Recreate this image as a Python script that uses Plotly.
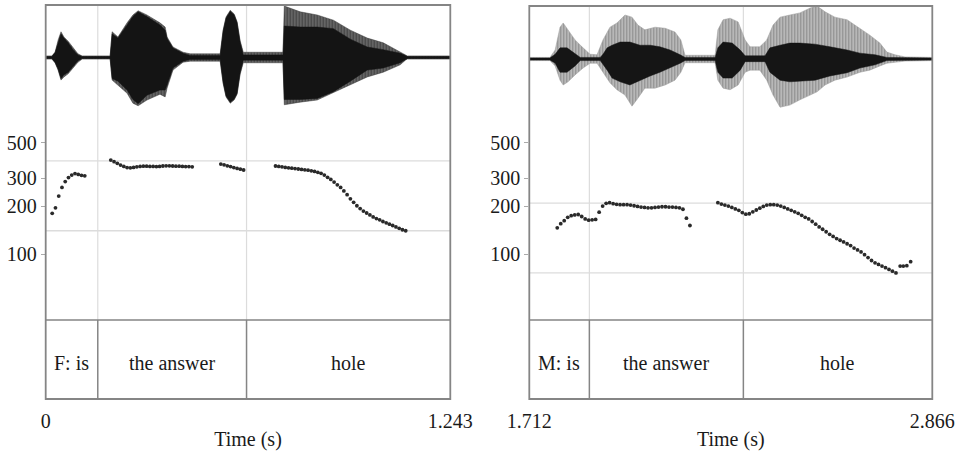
import plotly.graph_objects as go

# ======================= DATA =======================
FRAME_STEP = 0.01  # pitch analysis frame step (s)

# ---- Left panel (female speaker) ----
F_RANGE = [0.0, 1.243]
F_TICKS = [0.0, 1.243]
F_TICKTEXT = ["0", "1.243"]
F_BOUNDS = [0.160, 0.617]
F_WORDS = ["F: is", "the answer", "hole"]
F_REF_HZ = [385, 140]

F_ENV_T = [0.000, 0.019, 0.029, 0.038, 0.047, 0.056, 0.069, 0.084, 0.099, 0.112,
           0.198, 0.204, 0.222, 0.250, 0.268, 0.284, 0.311, 0.351, 0.367, 0.373,
           0.391, 0.422, 0.444, 0.536, 0.545, 0.554, 0.567, 0.579, 0.588, 0.597,
           0.607, 0.720, 0.729, 0.733, 0.782, 0.834, 0.884, 0.936, 0.988, 1.037,
           1.089, 1.105, 1.111, 1.243]
F_OUT_TOP = [0.03, 0.03, 0.10, 0.33, 0.49, 0.39, 0.31, 0.18, 0.07, 0.03,
             0.03, 0.49, 0.39, 0.66, 0.81, 0.89, 0.81, 0.66, 0.58, 0.39,
             0.20, 0.10, 0.07, 0.07, 0.52, 0.77, 0.90, 0.83, 0.68, 0.33,
             0.10, 0.10, 0.10, 0.98, 0.87, 0.81, 0.71, 0.52, 0.37, 0.28,
             0.10, 0.05, 0.03, 0.03]
F_OUT_BOT = [-0.03, -0.03, -0.10, -0.24, -0.43, -0.37, -0.31, -0.20, -0.09, -0.03,
             -0.03, -0.43, -0.52, -0.68, -0.87, -0.92, -0.81, -0.70, -0.75, -0.58,
             -0.24, -0.09, -0.07, -0.07, -0.49, -0.75, -0.87, -0.81, -0.70, -0.33,
             -0.10, -0.10, -0.10, -0.90, -0.85, -0.81, -0.68, -0.52, -0.37, -0.28,
             -0.14, -0.05, -0.03, -0.03]
F_IN_TOP = [0.02, 0.02, 0.10, 0.30, 0.45, 0.37, 0.28, 0.15, 0.05, 0.02,
            0.02, 0.45, 0.37, 0.62, 0.78, 0.87, 0.78, 0.62, 0.52, 0.36,
            0.18, 0.08, 0.04, 0.04, 0.50, 0.75, 0.88, 0.81, 0.66, 0.30,
            0.05, 0.05, 0.05, 0.60, 0.58, 0.58, 0.55, 0.35, 0.20, 0.15,
            0.08, 0.04, 0.02, 0.02]
F_IN_BOT = [-0.02, -0.02, -0.10, -0.22, -0.40, -0.33, -0.28, -0.17, -0.06, -0.02,
            -0.02, -0.40, -0.45, -0.62, -0.80, -0.88, -0.72, -0.62, -0.62, -0.52,
            -0.20, -0.07, -0.04, -0.04, -0.47, -0.73, -0.85, -0.79, -0.68, -0.30,
            -0.05, -0.05, -0.05, -0.80, -0.80, -0.78, -0.65, -0.45, -0.24, -0.20,
            -0.10, -0.04, -0.02, -0.02]

F_PITCH_STARTS = [0.020, 0.200, 0.538, 0.706]
F_PITCH_HZ = [
    [180, 195, 231, 262, 285, 302, 313, 320, 316, 312, 310],
    [389, 380, 371, 362, 355, 349, 348, 350, 353, 355, 356, 356, 355, 355, 354,
     355, 357, 358, 358, 357, 356, 356, 355, 354, 354, 353],
    [367, 363, 358, 354, 349, 345, 341, 337],
    [357, 355, 353, 350, 348, 346, 344, 342, 340, 338, 336, 333, 330, 326, 321,
     313, 303, 294, 283, 272, 262, 249, 236, 222, 211, 201, 193, 186, 181, 176,
     171, 167, 164, 160, 157, 154, 151, 148, 145, 142, 140],
]

# ---- Right panel (male speaker) ----
M_RANGE = [1.712, 2.866]
M_TICKS = [1.712, 2.866]
M_TICKTEXT = ["1.712", "2.866"]
M_BOUNDS = [1.884, 2.325]
M_WORDS = ["M: is", "the answer", "hole"]
M_REF_HZ = [209, 76]

M_OUT_T = [1.712, 1.771, 1.786, 1.800, 1.809, 1.823, 1.843, 1.866, 1.886, 1.906,
           1.923, 1.943, 1.963, 1.986, 2.006, 2.023, 2.043, 2.072, 2.101, 2.129,
           2.146, 2.158, 2.244, 2.252, 2.267, 2.287, 2.310, 2.330, 2.344, 2.372,
           2.392, 2.410, 2.430, 2.458, 2.487, 2.516, 2.536, 2.559, 2.587, 2.622,
           2.659, 2.687, 2.716, 2.736, 2.759, 2.788, 2.866]
M_OUT_TOP = [0.03, 0.03, 0.17, 0.60, 0.68, 0.55, 0.36, 0.21, 0.09, 0.08,
             0.36, 0.60, 0.68, 0.83, 0.79, 0.64, 0.55, 0.60, 0.58, 0.51,
             0.36, 0.07, 0.07, 0.55, 0.74, 0.77, 0.70, 0.36, 0.23, 0.23,
             0.36, 0.64, 0.79, 0.83, 0.87, 0.96, 1.00, 0.89, 0.79, 0.74,
             0.58, 0.45, 0.30, 0.13, 0.08, 0.04, 0.03]
M_OUT_BOT = [-0.03, -0.03, -0.13, -0.40, -0.49, -0.43, -0.30, -0.17, -0.08, -0.08,
             -0.25, -0.45, -0.58, -0.68, -0.89, -0.74, -0.55, -0.55, -0.49, -0.40,
             -0.25, -0.07, -0.07, -0.40, -0.55, -0.58, -0.49, -0.25, -0.21, -0.21,
             -0.40, -0.68, -0.91, -0.87, -0.77, -0.68, -0.62, -0.49, -0.40, -0.34,
             -0.25, -0.21, -0.13, -0.08, -0.06, -0.04, -0.03]
M_IN_T = [1.712, 1.771, 1.786, 1.800, 1.820, 1.843, 1.858, 1.915, 1.923, 1.935,
          1.949, 1.972, 2.000, 2.029, 2.058, 2.086, 2.115, 2.144, 2.158, 2.244,
          2.252, 2.267, 2.293, 2.316, 2.330, 2.387, 2.401, 2.430, 2.458, 2.487,
          2.530, 2.573, 2.622, 2.659, 2.702, 2.736, 2.866]
M_IN_TOP = [0.02, 0.02, 0.09, 0.21, 0.21, 0.11, 0.03, 0.03, 0.09, 0.21,
            0.26, 0.32, 0.32, 0.26, 0.26, 0.23, 0.17, 0.08, 0.03, 0.03,
            0.21, 0.32, 0.30, 0.17, 0.06, 0.06, 0.21, 0.26, 0.30, 0.30,
            0.28, 0.23, 0.17, 0.11, 0.08, 0.03, 0.02]
M_IN_BOT = [-0.02, -0.02, -0.08, -0.25, -0.25, -0.13, -0.03, -0.03, -0.09, -0.21,
            -0.36, -0.43, -0.49, -0.40, -0.32, -0.25, -0.17, -0.08, -0.03, -0.03,
            -0.25, -0.36, -0.36, -0.21, -0.05, -0.05, -0.25, -0.40, -0.43, -0.42,
            -0.40, -0.32, -0.26, -0.17, -0.11, -0.03, -0.02]

M_PITCH_STARTS = [1.792, 2.252]
M_PITCH_HZ = [
    [146, 155, 162, 170, 174, 176, 177, 172, 166, 163, 164, 165, 183, 200, 208,
     210, 207, 205, 204, 204, 204, 203, 201, 199, 197, 196, 195, 195, 196, 197,
     198, 198, 197, 197, 196, 195, 191, 168, 151],
    [210, 206, 203, 200, 196, 192, 188, 182, 178, 179, 184, 189, 194, 199, 203,
     204, 204, 203, 200, 196, 192, 188, 184, 180, 175, 170, 166, 160, 154, 148,
     143, 138, 133, 129, 125, 122, 119, 116, 113, 109, 106, 103, 99, 95, 91,
     88, 86, 84, 82, 80, 78, 76],
]
M_TAIL_T = [2.774, 2.783, 2.793, 2.804]
M_TAIL_HZ = [84, 84, 84.5, 89.5]

PITCH_TICKS = [100, 200, 300, 500]

# ======================= LAYOUT CONSTANTS =======================
W, H = 962, 454
FONT = "Liberation Serif, Times New Roman, serif"
FRAME_COLOR = "#858585"
LIGHT = "#dcdcdc"
DOT = "#2a2a2a"
TXT = "#1a1a1a"


def fy(p):
    return 1 - p / H


def fx(p):
    return p / W


fig = go.Figure()
shapes = []
annotations = []

panels = [
    dict(xa="x", ya=("y", "y2", "y3"), xl=45.7, xr=450.3, wtop=5, wbot=110,
         rng=F_RANGE, ticks=F_TICKS, ticktext=F_TICKTEXT, bounds=F_BOUNDS,
         words=F_WORDS, ref=F_REF_HZ,
         env=[(F_ENV_T, F_OUT_TOP, F_OUT_BOT,
               dict(fillcolor="#3a3a3a",
                    fillpattern=dict(shape="|", size=3, solidity=0.45,
                                     fgcolor="#1a1a1a", bgcolor="#6a6a6a"))),
              (F_ENV_T, F_IN_TOP, F_IN_BOT, dict(fillcolor="#141414"))],
         pitch=[(s, v) for s, v in zip(F_PITCH_STARTS, F_PITCH_HZ)], tail=None),
    dict(xa="x2", ya=("y4", "y5", "y6"), xl=529.3, xr=932.3, wtop=6, wbot=112,
         rng=M_RANGE, ticks=M_TICKS, ticktext=M_TICKTEXT, bounds=M_BOUNDS,
         words=M_WORDS, ref=M_REF_HZ,
         env=[(M_OUT_T, M_OUT_TOP, M_OUT_BOT,
               dict(fillcolor="#9a9a9a",
                    fillpattern=dict(shape="|", size=3, solidity=0.4,
                                     fgcolor="#5a5a5a", bgcolor="#bdbdbd"))),
              (M_IN_T, M_IN_TOP, M_IN_BOT, dict(fillcolor="#151515"))],
         pitch=[(s, v) for s, v in zip(M_PITCH_STARTS, M_PITCH_HZ)],
         tail=(M_TAIL_T, M_TAIL_HZ)),
]

TIER_TOP, TIER_BOT = 320, 399
PITCH_TOP = 120
# log10 range so that 100 Hz sits at y=254 px and 500 Hz at y=142.7 px
PX_PER_DEC = 159.2
LOG_LO = 2 - (TIER_TOP - 254) / PX_PER_DEC
LOG_HI = 2 + (254 - PITCH_TOP) / PX_PER_DEC

layout_axes = {}
for i, p in enumerate(panels):
    xa = p["xa"]
    yw, yp, yt = p["ya"]
    xname = "xaxis" if xa == "x" else "xaxis" + xa[1:]

    def yname(y):
        return "yaxis" if y == "y" else "yaxis" + y[1:]

    # reference lines in pitch area
    for hz in p["ref"]:
        fig.add_trace(go.Scatter(x=p["rng"], y=[hz, hz], mode="lines",
                                 line=dict(color=LIGHT, width=1.3),
                                 xaxis=xa, yaxis=yp, hoverinfo="skip",
                                 showlegend=False))
    # waveform envelopes
    for t, top, bot, style in p["env"]:
        fig.add_trace(go.Scatter(x=list(t) + list(t)[::-1],
                                 y=list(top) + list(bot)[::-1],
                                 fill="toself", mode="lines",
                                 line=dict(width=0.5, color=style["fillcolor"]),
                                 xaxis=xa, yaxis=yw, hoverinfo="skip",
                                 showlegend=False, **style))
    # pitch dots
    for start, vals in p["pitch"]:
        ts = [start + k * FRAME_STEP for k in range(len(vals))]
        fig.add_trace(go.Scatter(x=ts, y=vals, mode="markers",
                                 marker=dict(size=3.8, color=DOT),
                                 xaxis=xa, yaxis=yp, hoverinfo="skip",
                                 showlegend=False))
    if p["tail"]:
        fig.add_trace(go.Scatter(x=p["tail"][0], y=p["tail"][1], mode="markers",
                                 marker=dict(size=3.8, color=DOT),
                                 xaxis=xa, yaxis=yp, hoverinfo="skip",
                                 showlegend=False))

    # boundaries
    for b in p["bounds"]:
        shapes.append(dict(type="line", xref=xa, yref="paper", x0=b, x1=b,
                           y0=fy(TIER_TOP), y1=fy(p["wtop"]),
                           line=dict(color=LIGHT, width=1.2), layer="below"))
        shapes.append(dict(type="line", xref=xa, yref="paper", x0=b, x1=b,
                           y0=fy(TIER_BOT), y1=fy(TIER_TOP),
                           line=dict(color=FRAME_COLOR, width=1.5)))
    # tier top line
    shapes.append(dict(type="line", xref="paper", yref="paper",
                       x0=fx(p["xl"]), x1=fx(p["xr"]),
                       y0=fy(TIER_TOP), y1=fy(TIER_TOP),
                       line=dict(color=FRAME_COLOR, width=1.5)))
    # frame
    shapes.append(dict(type="rect", xref="paper", yref="paper",
                       x0=fx(p["xl"]), x1=fx(p["xr"]),
                       y0=fy(TIER_BOT), y1=fy(p["wtop"]),
                       line=dict(color=FRAME_COLOR, width=1.8)))
    # words
    edges = [p["rng"][0]] + list(p["bounds"]) + [p["rng"][1]]
    for k, w in enumerate(p["words"]):
        annotations.append(dict(x=(edges[k] + edges[k + 1]) / 2, y=0.46,
                                xref=xa, yref=yt, text=w, showarrow=False,
                                font=dict(family=FONT, size=20, color=TXT)))

    dom = [fx(p["xl"]), fx(p["xr"])]
    layout_axes[xname] = dict(
        domain=dom, range=p["rng"], anchor=yt, showgrid=False, zeroline=False,
        showline=False, tickvals=p["ticks"], ticktext=p["ticktext"], ticks="",
        ticklabelstandoff=8,
        tickfont=dict(family=FONT, size=20, color=TXT),
        title=dict(text="Time (s)", standoff=0,
                   font=dict(family=FONT, size=20, color=TXT)),
        automargin=False, fixedrange=True)
    layout_axes[yname(yw)] = dict(domain=[fy(p["wbot"]), fy(p["wtop"])],
                                  range=[-1, 1], anchor=xa, visible=False)
    layout_axes[yname(yp)] = dict(
        domain=[fy(TIER_TOP), fy(PITCH_TOP)], type="log", range=[LOG_LO, LOG_HI],
        anchor=xa, tickvals=PITCH_TICKS, ticktext=[str(v) for v in PITCH_TICKS],
        ticks="outside", ticklen=4, tickcolor="#aaaaaa", tickwidth=1,
        showgrid=False, zeroline=False, showline=False,
        tickfont=dict(family=FONT, size=20, color=TXT), automargin=False)
    layout_axes[yname(yt)] = dict(domain=[fy(TIER_BOT), fy(TIER_TOP)],
                                  range=[0, 1], anchor=xa, visible=False)

fig.update_layout(
    width=W, height=H, autosize=False,
    margin=dict(l=0, r=0, t=0, b=0),
    paper_bgcolor="white", plot_bgcolor="white",
    showlegend=False, shapes=shapes, annotations=annotations,
    font=dict(family=FONT, size=20, color=TXT),
    **layout_axes,
)

fig.write_html(
    "out.html",
    config={"displayModeBar": False},
    post_script="document.body.style.margin='0';document.body.style.padding='0';",
)
